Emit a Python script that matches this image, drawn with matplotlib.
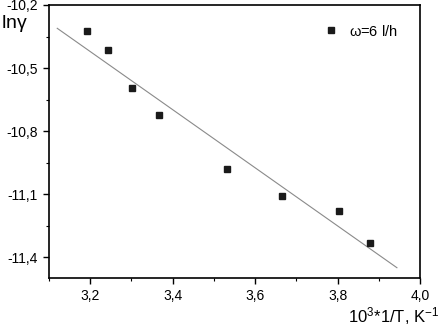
import numpy as np
import matplotlib
matplotlib.use('Agg')
import matplotlib.pyplot as plt
from matplotlib.ticker import FixedLocator, MultipleLocator

plt.rcParams['font.family'] = ['Liberation Sans', 'DejaVu Sans']
plt.rcParams['mathtext.default'] = 'regular'

# data
inv_t = [3.193, 3.242, 3.302, 3.367, 3.533, 3.666, 3.803, 3.879]
ln_gamma = [-10.322, -10.413, -10.597, -10.724, -10.981, -11.111, -11.180, -11.333]

# linear fit endpoints
fit_x = [3.120, 3.944]
fit_y = [-10.311, -11.451]

x_ticks = [3.2, 3.4, 3.6, 3.8, 4.0]
x_labels = ['3,2', '3,4', '3,6', '3,8', '4,0']
y_ticks = [-10.2, -10.5, -10.8, -11.1, -11.4]
y_labels = ['-10,2', '-10,5', '-10,8', '-11,1', '-11,4']

fig = plt.figure(figsize=(4.39, 3.26), dpi=100)
ax = fig.add_axes([49/439, 48/326, 371/439, 273/326])

ax.plot(fit_x, fit_y, c='#8a8a8a', lw=0.8)
ax.plot(inv_t, ln_gamma, ls='none', marker='s', ms=4, c='#1a1a1a',
        label=r'$\omega$=6 l/h')

ax.set_xlim(3.1, 4.0)
ax.set_ylim(-11.5, -10.2)
ax.xaxis.set_major_locator(FixedLocator(x_ticks))
ax.set_xticklabels(x_labels)
ax.xaxis.set_minor_locator(MultipleLocator(0.1))
ax.yaxis.set_major_locator(FixedLocator(y_ticks))
ax.set_yticklabels(y_labels)
ax.yaxis.set_minor_locator(MultipleLocator(0.15))
ax.tick_params(which='major', direction='out', length=4, width=1, labelsize=10, pad=4)
ax.tick_params(which='minor', direction='out', length=2, width=0.8)
for s in ax.spines.values():
    s.set_linewidth(1.2)

ax.legend(loc='upper right', bbox_to_anchor=(0.975, 0.98), frameon=False,
          fontsize=10.5, handlelength=0.8, handletextpad=0.8)

fig.text(1/439, 1 - 28/326, r'ln$\gamma$', fontsize=14)
fig.text(1.0, 1 - 322/326, r'10$^3$*1/T, K$^{-1}$', fontsize=12, ha='right')

fig.savefig('out.png', dpi=100)
